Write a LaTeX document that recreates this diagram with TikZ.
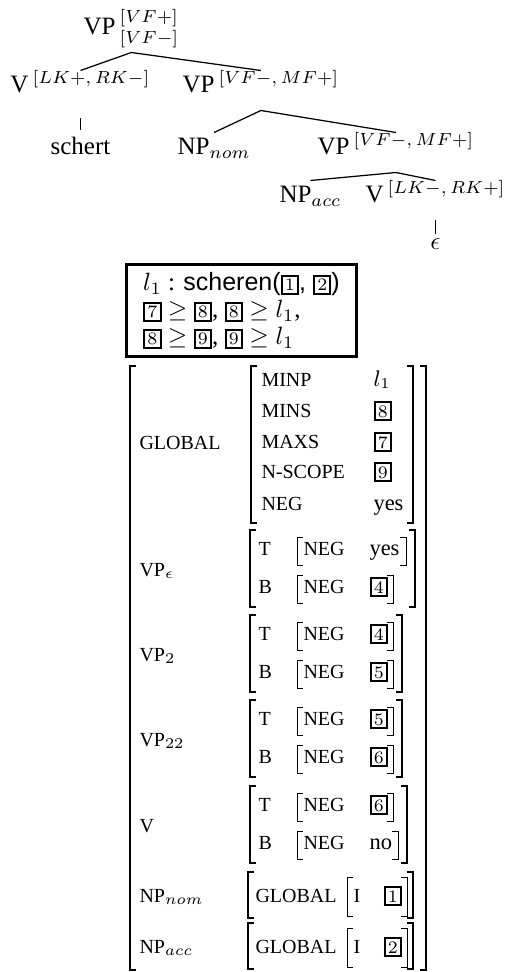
\documentclass[tikz,border=0pt]{standalone}
\usepackage[no-math]{fontspec}
\setmainfont{Liberation Serif}
\setsansfont{Liberation Sans}
% boxed tag numbers
\newcommand{\tagnum}[1]{{\setlength{\fboxsep}{0.9pt}\setlength{\fboxrule}{0.8pt}\fbox{\fontsize{7}{7}\selectfont$#1$}}}
% a pair of square brackets: style, left, right, top, bottom
\newcommand{\avmbrk}[5]{%
  \draw[#1] (#2+6,#4) -- (#2,#4) -- (#2,#5) -- (#2+6,#5);
  \draw[#1] (#3-6,#4) -- (#3,#4) -- (#3,#5) -- (#3-6,#5);}
\begin{document}
\begin{tikzpicture}[x=0.4pt, y=-0.4pt,
    cat/.style={anchor=base west, inner sep=0pt, font=\fontsize{10}{12}\selectfont},
    feat/.style={anchor=base west, inner sep=0pt, font=\fontsize{8}{9}\selectfont},
    val/.style={anchor=base west, inner sep=0pt, font=\fontsize{9}{10}\selectfont},
    branch/.style={line width=0.5pt},
    bigbrk/.style={line width=0.8pt},
    midbrk/.style={line width=0.6pt},
    thinbrk/.style={line width=0.4pt}]
        \useasboundingbox (0,0) rectangle (505,972);

        % Tree
        \node[cat] (root) at (83,35) {VP$\,{}^{[VF+]}_{[VF-]}$};
        \node[cat] (v1) at (10,93) {V$\,{}^{[LK+,\,RK-]}$};
        \node[cat] (vp1) at (182,93) {VP$\,{}^{[VF-,\,MF+]}$};
        \node[cat, anchor=base] (schert) at ([yshift=-24.8pt]v1.base) {schert};
        \node[cat] (npnom) at (177,155) {NP$_{nom}$};
        \node[cat] (vp2) at (317,155) {VP$\,{}^{[VF-,\,MF+]}$};
        \node[cat] (npacc) at (279,203) {NP$_{acc}$};
        \node[cat] (v2) at (365,203) {V$\,{}^{[LK-,\,RK+]}$};
        \node[cat, anchor=base] (eps) at ([yshift=-18.4pt]v2.base) {$\epsilon$};

        % Branches
        \draw[branch] ([yshift=9pt]v1.base) -- ([yshift=-7pt]root.base) -- ([yshift=9pt]vp1.base);
        \draw[branch] ([yshift=9pt]npnom.base) -- ([yshift=-7pt]vp1.base) -- ([yshift=9pt]vp2.base);
        \draw[branch] ([yshift=9pt]npacc.base) -- ([yshift=-7pt]vp2.base) -- ([yshift=9pt]v2.base);
        \draw[branch, shorten >=3pt] ([yshift=-10pt]v1.base) -- (schert.north);
        \draw[branch, shorten >=1.5pt] ([yshift=-7pt]v2.base) -- (eps.north);

        % Semantics
        \node[draw, line width=1.2pt, minimum width=92pt, minimum height=36.8pt, align=left, inner sep=0pt,
              font=\fontsize{10}{10.8}\selectfont] (sem) at (241.5,310.5)
              {$l_1$ : \textsf{scheren(\tagnum{1}, \tagnum{2})}\\
               \tagnum{7} $\geq$ \tagnum{8}, \tagnum{8} $\geq l_1$,\\
               \tagnum{8} $\geq$ \tagnum{9}, \tagnum{9} $\geq l_1$};

        % AVM
        \avmbrk{bigbrk}{130}{426}{366}{970}
        \node[feat] (glob) at (139,449) {GLOBAL};
        \avmbrk{bigbrk}{251}{413}{366}{523}
        \foreach \f/\v/\y [count=\i] in {MINP/$l_1$/386, MINS/\tagnum{8}/417, MAXS/\tagnum{7}/448,
                                         N-SCOPE/\tagnum{9}/478, NEG/yes/510} {
            \node[feat] (gf\i) at (261,\y) {\f};
            \node[val] (gv\i) at (373,\y) {\v};
        }

        \foreach \lab/\t/\vt/\vb/\ro/\rt/\rb [count=\i] in
            {VP$_\epsilon$/555/yes/\tagnum{4}/415/406/393, VP$_2$/640/\tagnum{4}/\tagnum{5}/402/393/393,
             VP$_{22}$/725/\tagnum{5}/\tagnum{6}/402/393/393, V/811/\tagnum{6}/no/407/393/398} {
            \node[feat] (lab\i) at (139,\t+21) {\lab};
            \avmbrk{bigbrk}{250}{\ro}{\t-25}{\t+52}
            \node[feat] (t\i) at (258,\t) {T};
            \node[feat] (tn\i) at (303,\t) {NEG};
            \node[val] (tv\i) at (369,\t) {\vt};
            \avmbrk{thinbrk}{297}{\rt}{\t-18}{\t+10}
            \node[feat] (b\i) at (258,\t+38) {B};
            \node[feat] (bn\i) at (303,\t+38) {NEG};
            \node[val] (bv\i) at (369,\t+38) {\vb};
            \avmbrk{thinbrk}{297}{\rb}{\t+20}{\t+48}
        }

        \foreach \lab/\y/\n [count=\i] in {NP$_{nom}$/902/1, NP$_{acc}$/953/2} {
            \node[feat] (np\i) at (139,\y) {\lab};
            \avmbrk{midbrk}{248}{413}{\y-30}{\y+16}
            \node[feat] (npg\i) at (255,\y) {GLOBAL};
            \avmbrk{thinbrk}{347}{407}{\y-25}{\y+14}
            \node[feat] (npi\i) at (353,\y) {I};
            \node[val] (npv\i) at (383,\y) {\tagnum{\n}};
        }
\end{tikzpicture}
\end{document}
